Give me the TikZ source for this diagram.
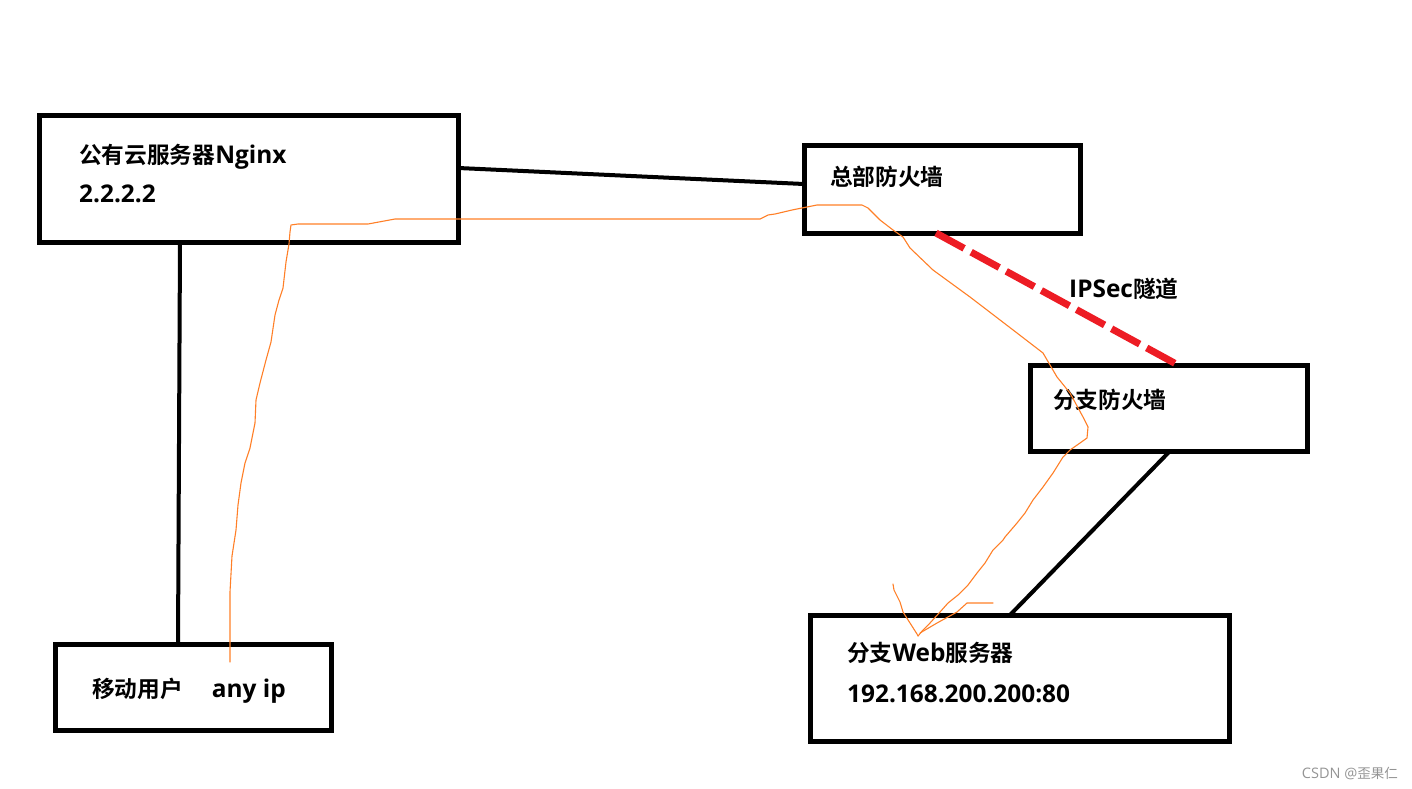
\documentclass[tikz,border=0pt]{standalone}
\usepackage{fontspec}
\setmainfont{Open Sans}
\newfontfamily\cjkfont{Noto Sans CJK SC}[BoldFont={Noto Sans CJK SC Bold}, Scale=0.93]
\newcommand{\zh}[1]{{\cjkfont #1}}
\usepackage{xcolor}
\definecolor{paintred}{RGB}{237,28,36}
\definecolor{paintorange}{RGB}{255,127,39}

\begin{document}
\begin{tikzpicture}[x=1pt, y=-1pt,
  font=\bfseries\fontsize{24.4}{28}\selectfont,
  box/.style={draw, line width=5pt, rectangle, inner sep=0pt, outer sep=0pt},
  lbl/.style={anchor=base west, inner sep=0pt},
  link/.style={line width=4pt, line cap=round},
  tunnel/.style={paintred, line width=7pt, dash pattern=on 32pt off 8pt},
  trace/.style={paintorange, line width=1.1pt, line join=round, line cap=round}]

\useasboundingbox (0,0) rectangle (1412,788);

\node[box, minimum width=419pt, minimum height=126.5pt] (cloud) at (249,178.75) {};
\node[box, minimum width=276pt, minimum height=87.5pt] (hq) at (942,189.25) {};
\node[box, minimum width=277pt, minimum height=86pt] (branch) at (1168.5,408) {};
\node[box, minimum width=419pt, minimum height=126pt] (web) at (1019.5,678) {};
\node[box, minimum width=276pt, minimum height=86pt] (mobile) at (193,687) {};

\node[lbl] (cloudname) at (79,163) {\zh{公有云服务器}Nginx};
\node[lbl] (cloudip) at (79,202) {2.2.2.2};
\node[lbl] (hqname) at (830,185) {\zh{总部防火墙}};
\node[lbl] (branchname) at (1053,408) {\zh{分支防火墙}};
\node[lbl] (webname) at (847,661) {\zh{分支}Web\zh{服务器}};
\node[lbl] (webip) at (847,702) {192.168.200.200:80};
\node[lbl] (mobilename) at (92,697) {\zh{移动用户}\hspace*{29pt}any ip};
\node[lbl] (ipsec) at (1069,297) {IPSec\zh{隧道}};

\draw[link] (cloud.east |- 0,168) -- (hq.west |- 0,184);
\draw[link, line cap=butt] (cloud.south -| 180,0) -- (mobile.north -| 178,0);
\draw[link, line cap=butt] (branch.south -| 1170,0) -- (web.north -| 1010,0);
\draw[tunnel] (hq.south -| 936,0) -- (branch.north -| 1178,0);

\draw[trace] (230,662) -- (230,592) -- (232,556) -- (236,530) -- (238,505)
  -- (241,483) -- (245,463) -- (250,448) -- (255,423) -- (256,400)
  -- (260,383) -- (266,360) -- (271,342) -- (275,315) -- (279,300)
  -- (283,288) -- (286,262) -- (289,244) -- (290,232) -- (291,225)
  -- (298,224) -- (368,224) -- (395,219) -- (760,219) -- (768,215)
  -- (775,214) -- (792,210) -- (817,205) -- (862,205) -- (868,208)
  -- (880,220) -- (893,230) -- (903,237) -- (910,248) -- (933,270)
  -- (970,297) -- (987,310) -- (1017,333) -- (1043,353) -- (1057,377)
  -- (1070,393) -- (1083,417) -- (1088,427) -- (1087,438) -- (1080,443)
  -- (1070,450) -- (1063,457) -- (1053,473) -- (1043,487) -- (1033,500)
  -- (1025,513) -- (1017,523) -- (1005,537) -- (1003,540) -- (993,550)
  -- (985,563) -- (977,573) -- (968,585) -- (958,595) -- (948,603)
  -- (940,612) -- (930,623) -- (923,630) -- (918,636);
\draw[trace] (893,584) -- (894,590) -- (900,602) -- (903,612) -- (910,623)
  -- (917,634) -- (918,636);
\draw[trace] (920,633) -- (937,623) -- (957,612) -- (967,603) -- (993,603);

\node[anchor=east, inner sep=0pt, text=black!42, font=\fontsize{14.5}{16}\selectfont] (mark) at (1398,773) {CSDN @\zh{歪果仁}};
\end{tikzpicture}
\end{document}
